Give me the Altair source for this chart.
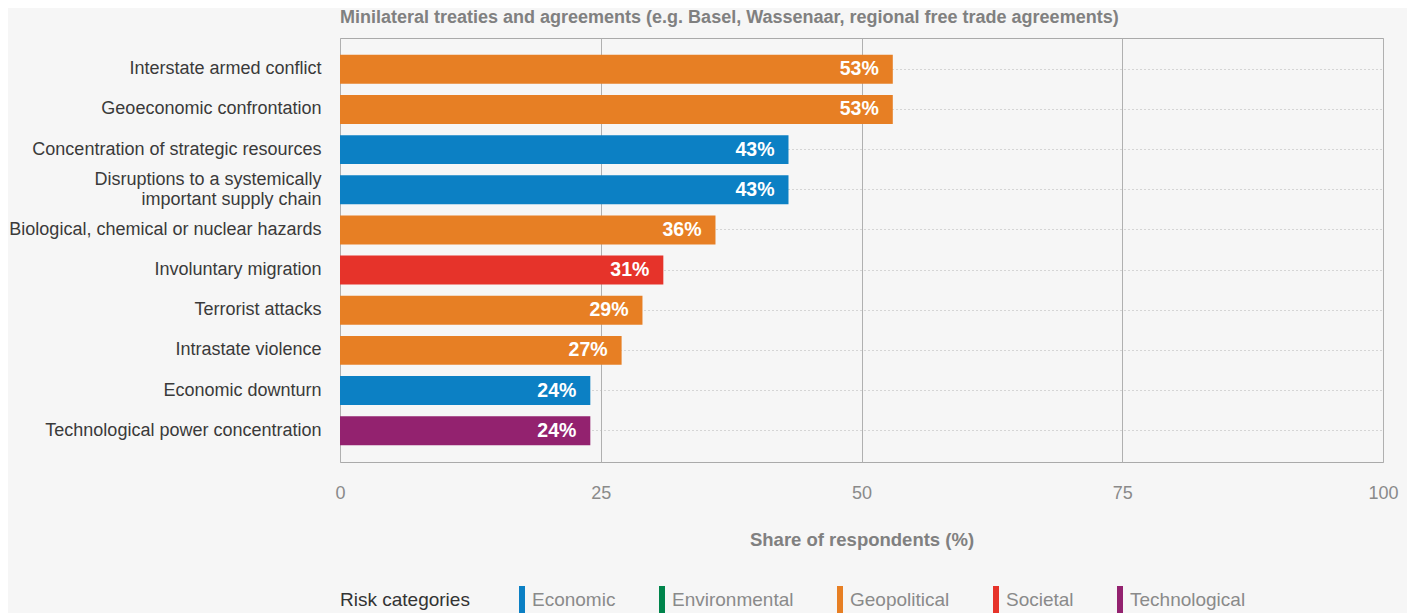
import altair as alt
import pandas as pd

risks = [
    "Interstate armed conflict",
    "Geoeconomic confrontation",
    "Concentration of strategic resources",
    "Disruptions to a systemically important supply chain",
    "Biological, chemical or nuclear hazards",
    "Involuntary migration",
    "Terrorist attacks",
    "Intrastate violence",
    "Economic downturn",
    "Technological power concentration",
]
values = [53, 53, 43, 43, 36, 31, 29, 27, 24, 24]
categories = [
    "Geopolitical", "Geopolitical", "Economic", "Economic", "Geopolitical",
    "Societal", "Geopolitical", "Geopolitical", "Economic", "Technological",
]
legend_domain = ["Economic", "Environmental", "Geopolitical", "Societal", "Technological"]
legend_colors = ["#0c80c4", "#00844b", "#e77f24", "#e6332a", "#93226f"]
x_ticks = [0, 25, 50, 75, 100]

title_text = "Minilateral treaties and agreements (e.g. Basel, Wassenaar, regional free trade agreements)"
x_title = "Share of respondents (%)"
legend_title = "Risk categories"

df = pd.DataFrame({"risk": risks, "value": values, "category": categories})
df["label"] = [f"{v}%" for v in values]

FONT = "Liberation Sans"
TWO_LINE = "Disruptions to a systemically important supply chain"

label_expr = (
    f"datum.value == '{TWO_LINE}' ? "
    "['Disruptions to a systemically', 'important supply chain'] : datum.value"
)

y_enc = alt.Y(
    "risk:N",
    sort=risks,
    title=None,
    scale=alt.Scale(paddingInner=0.28, paddingOuter=0.42),
    axis=alt.Axis(
        labelExpr=label_expr,
        labelFontSize=18,
        labelColor="#3a3a3a",
        labelPadding=19,
        labelLineHeight=20,
        labelLimit=400,
        labelOffset=alt.condition(f"datum.value == '{TWO_LINE}'", alt.value(-10), alt.value(0)),
        ticks=False,
        domain=False,
        grid=True,
        gridColor="#b4b4b4",
        gridDash=[1, 3],
        gridWidth=1,
        bandPosition=0.5,
    ),
)

x_enc = alt.X(
    "value:Q",
    scale=alt.Scale(domain=[0, 100], nice=False),
    title=x_title,
    axis=alt.Axis(
        values=x_ticks,
        labelFontSize=18,
        labelColor="#8a8a8a",
        labelPadding=22,
        labelFlush=False,
        ticks=False,
        domain=False,
        grid=True,
        gridColor="#b0b0b0",
        gridWidth=1,
        titleFontSize=18.5,
        titleFontWeight="bold",
        titleColor="#808080",
        titlePadding=28,
    ),
)

bars = alt.Chart(df).mark_bar().encode(
    y=y_enc,
    x=x_enc,
    color=alt.Color(
        "category:N",
        scale=alt.Scale(domain=legend_domain, range=legend_colors),
        legend=alt.Legend(
            title=legend_title,
            orient="none",
            legendX=0,
            legendY=548,
            direction="horizontal",
            titleOrient="left",
            titleAnchor="middle",
            titleBaseline="middle",
            titleFontSize=19,
            titleFontWeight="normal",
            titleColor="#333333",
            titlePadding=27,
            labelFontSize=19,
            labelColor="#8a8a8a",
            labelOffset=7,
            columnPadding=21,
            symbolType="M0.57,-1L1,-1L1,1L0.57,1Z",
            symbolSize=784,
            symbolStrokeWidth=0,
            symbolOpacity=1,
        ),
    ),
)

texts = alt.Chart(df).mark_text(
    align="right", baseline="middle", dx=-14, fontSize=19.5, fontWeight="bold", color="white", font=FONT
).encode(
    y=alt.Y("risk:N", sort=risks),
    x=alt.X("value:Q"),
    text="label:N",
)

chart = (
    alt.layer(bars, texts)
    .properties(
        width=1043,
        height=424,
        title=alt.TitleParams(
            title_text,
            anchor="start",
            frame="group",
            offset=11,
            fontSize=18,
            fontWeight="bold",
            color="#808080",
            font=FONT,
        ),
        autosize=alt.AutoSizeParams(type="none"),
        padding={"left": 332, "top": 30, "right": 24, "bottom": 151},
    )
    .configure(background="#f6f6f6", font=FONT)
    .configure_view(stroke="#aaaaaa", strokeWidth=1)
    .configure_axis(labelFont=FONT, titleFont=FONT)
    .configure_legend(labelFont=FONT, titleFont=FONT)
)

chart.save("out.html", embed_options={"renderer": "svg", "actions": False})
